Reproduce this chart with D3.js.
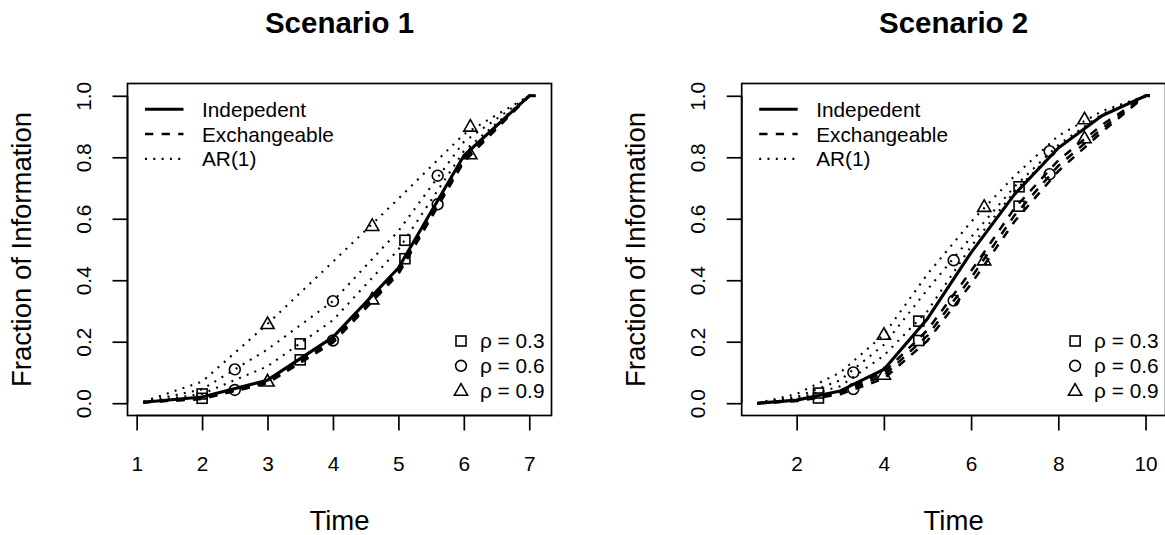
<!DOCTYPE html>
<html><head><meta charset="utf-8">
<script src="https://cdn.jsdelivr.net/npm/d3@7"></script>
<style>
html,body{margin:0;padding:0;background:#fff;}
svg{display:block;font-family:"Liberation Sans",Arial,Helvetica,sans-serif;}
</style></head>
<body><svg id="chart" width="1165" height="535"></svg>
<script>
// ---------- data ----------
const titles = ["Scenario 1", "Scenario 2"];
const xTicks1 = [1, 2, 3, 4, 5, 6, 7];
const xTicks2 = [2, 4, 6, 8, 10];
const yTicks = [0.0, 0.2, 0.4, 0.6, 0.8, 1.0];
const rhoLabels = ["ρ = 0.3", "ρ = 0.6", "ρ = 0.9"];
const structureLabels = ["Indepedent", "Exchangeable", "AR(1)"];

// Scenario 1
const time1   = [1.1, 2, 3, 4, 5, 6, 7, 7.1];
const indep1  = [0.003, 0.020, 0.075, 0.215, 0.440, 0.805, 1.0, 1.0];
const exch1_3 = [0.003, 0.016, 0.070, 0.205, 0.430, 0.795, 1.0, 1.0];
const exch1_6 = [0.003, 0.015, 0.067, 0.200, 0.425, 0.790, 1.0, 1.0];
const exch1_9 = [0.003, 0.014, 0.065, 0.197, 0.420, 0.785, 1.0, 1.0];
const ar1_3   = [0.003, 0.030, 0.120, 0.270, 0.500, 0.820, 1.0, 1.0];
const ar1_6   = [0.004, 0.045, 0.175, 0.332, 0.560, 0.850, 1.0, 1.0];
const ar1_9   = [0.005, 0.070, 0.258, 0.460, 0.665, 0.875, 1.0, 1.0];
// marker points scenario 1
const mk1_3_x = [2.0, 3.5, 5.1], mk1_3_ar = [0.030, 0.193, 0.530], mk1_3_ex = [0.016, 0.141, 0.470];
const mk1_6_x = [2.5, 4.0, 5.6], mk1_6_ar = [0.110, 0.332, 0.740], mk1_6_ex = [0.043, 0.204, 0.647];
const mk1_9_x = [3.0, 4.6, 6.1], mk1_9_ar = [0.258, 0.577, 0.900], mk1_9_ex = [0.071, 0.338, 0.810];

// Scenario 2
const time2   = [1.1, 2, 3, 4, 5, 6, 7, 8, 9, 10, 10.1];
const indep2  = [0.0, 0.010, 0.040, 0.110, 0.275, 0.490, 0.680, 0.830, 0.935, 1.0, 1.0];
const exch2_3 = [0.0, 0.009, 0.038, 0.100, 0.238, 0.430, 0.635, 0.790, 0.905, 1.0, 1.0];
const exch2_6 = [0.0, 0.008, 0.033, 0.090, 0.220, 0.408, 0.612, 0.772, 0.893, 1.0, 1.0];
const exch2_9 = [0.0, 0.007, 0.029, 0.080, 0.203, 0.388, 0.592, 0.755, 0.882, 1.0, 1.0];
const ar2_3   = [0.0, 0.015, 0.055, 0.155, 0.300, 0.510, 0.690, 0.830, 0.935, 1.0, 1.0];
const ar2_6   = [0.0, 0.020, 0.075, 0.190, 0.370, 0.540, 0.705, 0.840, 0.940, 1.0, 1.0];
const ar2_9   = [0.0, 0.030, 0.100, 0.223, 0.420, 0.590, 0.740, 0.870, 0.950, 1.0, 1.0];
const mk2_3_x = [2.5, 4.8, 7.1], mk2_3_ar = [0.033, 0.267, 0.704], mk2_3_ex = [0.017, 0.204, 0.641];
const mk2_6_x = [3.3, 5.6, 7.8], mk2_6_ar = [0.100, 0.465, 0.820], mk2_6_ex = [0.046, 0.334, 0.745];
const mk2_9_x = [4.0, 6.3, 8.6], mk2_9_ar = [0.223, 0.639, 0.924], mk2_9_ex = [0.093, 0.465, 0.862];

// ---------- drawing ----------
const svg = d3.select("#chart");
const FONT = 20.8;
const LABFONT = 27.5;
const STYLE = {
  solid:  {dash: null,      w: 3.1},
  dashed: {dash: "8.3,8.3", w: 2.5},
  dotted: {dash: "2,6.3",   w: 2.1}
};

const panels = [
  {title: titles[0], box: [127.5, 551.5, 83.5, 415.5], xdom: [0.86, 7.34], xticks: xTicks1, time: time1,
   indep: indep1, exch: [exch1_3, exch1_6, exch1_9], ar: [ar1_3, ar1_6, ar1_9],
   marks: [[mk1_3_x, mk1_3_ar, mk1_3_ex], [mk1_6_x, mk1_6_ar, mk1_6_ex], [mk1_9_x, mk1_9_ar, mk1_9_ex]]},
  {title: titles[1], box: [741.7, 1165.6, 83.5, 415.5], xdom: [0.74, 10.46], xticks: xTicks2, time: time2,
   indep: indep2, exch: [exch2_3, exch2_6, exch2_9], ar: [ar2_3, ar2_6, ar2_9],
   marks: [[mk2_3_x, mk2_3_ar, mk2_3_ex], [mk2_6_x, mk2_6_ar, mk2_6_ex], [mk2_9_x, mk2_9_ar, mk2_9_ex]]}
];

function marker(g, type, cx, cy) {
  const s = g.append(type === 0 ? "rect" : type === 1 ? "circle" : "path")
    .attr("fill", "none").attr("stroke", "#000").attr("stroke-width", 1.6);
  if (type === 0) s.attr("x", cx - 5).attr("y", cy - 5).attr("width", 10).attr("height", 10);
  else if (type === 1) s.attr("cx", cx).attr("cy", cy).attr("r", 5.4);
  else s.attr("d", `M${cx},${cy - 6.9}L${cx + 6.6},${cy + 4.6}L${cx - 6.6},${cy + 4.6}Z`);
}

panels.forEach(p => {
  const [L, R, T, B] = p.box;
  const x = d3.scaleLinear().domain(p.xdom).range([L, R]);
  const y = d3.scaleLinear().domain([-0.04, 1.04]).range([B, T]);
  const g = svg.append("g");

  const line = d3.line().x((d, i) => x(p.time[i])).y(d => y(d));
  const draw = (vals, st) => g.append("path").attr("d", line(vals)).attr("fill", "none")
    .attr("stroke", "#000").attr("stroke-width", st.w).attr("stroke-dasharray", st.dash)
    .attr("stroke-linejoin", "round");

  p.ar.forEach(v => draw(v, STYLE.dotted));
  p.exch.forEach(v => draw(v, STYLE.dashed));
  draw(p.indep, STYLE.solid);

  p.marks.forEach((m, k) => {
    m[0].forEach((xv, i) => {
      marker(g, k, x(xv), y(m[1][i]));
      marker(g, k, x(xv), y(m[2][i]));
    });
  });

  // box
  g.append("rect").attr("x", L).attr("y", T).attr("width", R - L).attr("height", B - T)
    .attr("fill", "none").attr("stroke", "#000").attr("stroke-width", 1.7);

  // axes (R style)
  const xa = g.append("g").attr("transform", `translate(0,${B})`)
    .call(d3.axisBottom(x).tickValues(p.xticks).tickSize(15).tickPadding(10).tickFormat(d3.format("d")));
  const ya = g.append("g").attr("transform", `translate(${L},0)`)
    .call(d3.axisLeft(y).tickValues(yTicks).tickSize(15).tickFormat(d3.format(".1f")));
  [xa, ya].forEach(a => {
    a.selectAll(".tick line").attr("stroke-width", 1.7);
    a.selectAll("text").attr("font-size", FONT).attr("font-family", "Liberation Sans, Arial, sans-serif").attr("fill", "#000");
  });
  xa.select(".domain").remove();
  ya.select(".domain").remove();
  g.append("line").attr("x1", x(p.xticks[0])).attr("x2", x(p.xticks[p.xticks.length - 1]))
    .attr("y1", B).attr("y2", B).attr("stroke", "#000").attr("stroke-width", 1.7);
  g.append("line").attr("y1", y(0)).attr("y2", y(1)).attr("x1", L).attr("x2", L)
    .attr("stroke", "#000").attr("stroke-width", 1.7);
  xa.selectAll("text").attr("dy", null).attr("y", 55);
  ya.selectAll(".tick text").attr("x", null).attr("dy", null)
    .attr("transform", "translate(-37,0) rotate(-90)").attr("text-anchor", "middle").attr("y", 0);

  // titles and labels
  g.append("text").attr("x", (L + R) / 2).attr("y", 33).attr("text-anchor", "middle")
    .attr("font-size", 29.5).attr("font-weight", "bold").text(p.title);
  g.append("text").attr("x", (L + R) / 2).attr("y", 530).attr("text-anchor", "middle")
    .attr("font-size", LABFONT).text("Time");
  g.append("text").attr("transform", `translate(${L - 97},${(T + B) / 2}) rotate(-90)`)
    .attr("text-anchor", "middle").attr("font-size", LABFONT).text("Fraction of Information");

  // legend: structures
  const styles = [STYLE.solid, STYLE.dashed, STYLE.dotted];
  structureLabels.forEach((lab, i) => {
    const yy = 109.3 + i * 24.8;
    g.append("line").attr("x1", L + 17.5).attr("x2", L + 56).attr("y1", yy).attr("y2", yy)
      .attr("stroke", "#000").attr("stroke-width", styles[i].w).attr("stroke-dasharray", styles[i].dash);
    g.append("text").attr("x", L + 74.5).attr("y", yy + 7.4).attr("font-size", FONT).text(lab);
  });
  // legend: rho
  rhoLabels.forEach((lab, i) => {
    const yy = 341 + i * 24.8;
    marker(g, i, R - 90.5, yy);
    g.append("text").attr("x", R - 71.5).attr("y", yy + 7.4).attr("font-size", FONT).text(lab);
  });
});
</script></body></html>
